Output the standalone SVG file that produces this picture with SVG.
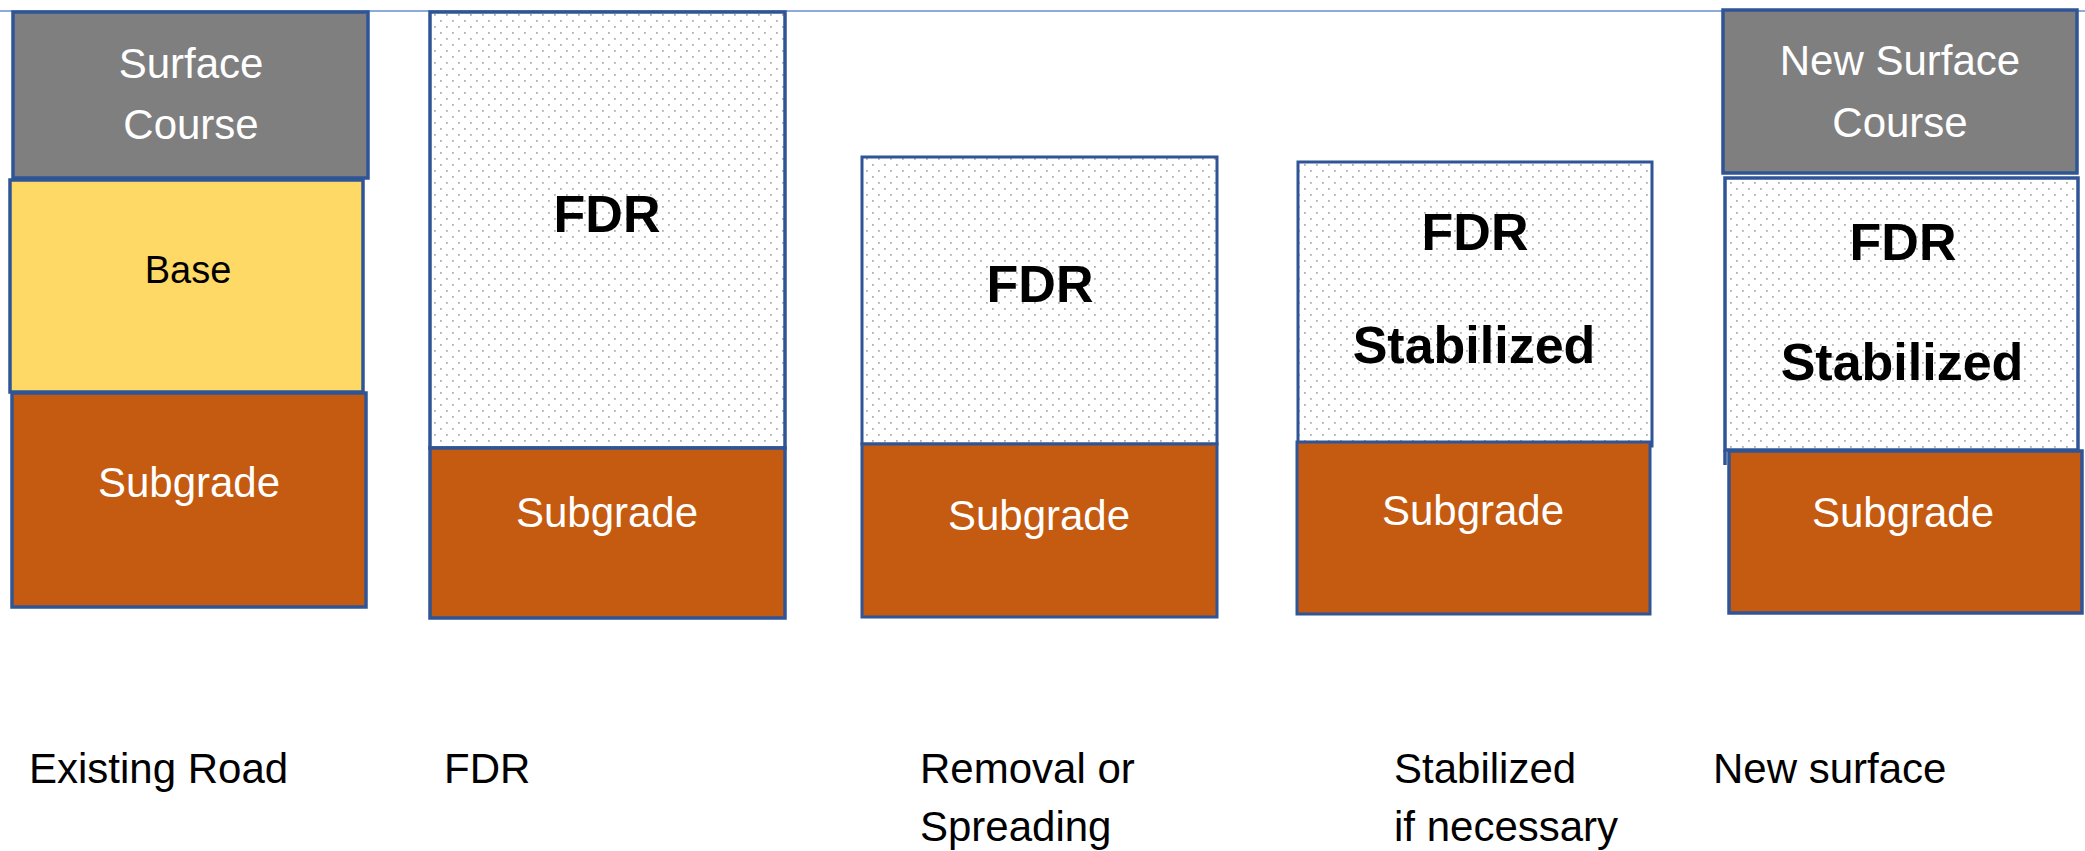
<svg xmlns="http://www.w3.org/2000/svg" width="2085" height="851" viewBox="0 0 2085 851">
<style>
.lay{stroke:#2f5597;stroke-width:3.5}
.thin{stroke-width:3}
.surf{fill:#7f7f7f}
.base{fill:#ffd966}
.sub{fill:#c55a11}
.fdr{fill:url(#dots)}
.t{font-family:"Liberation Sans",Arial,sans-serif;text-anchor:middle}
.w{fill:#ffffff;font-size:42px}
.b{fill:#000000;font-size:52px;font-weight:bold}
.lbl{font-family:"Liberation Sans",Arial,sans-serif;font-size:42px;fill:#000000}
</style>
<defs>
<pattern id="dots" x="0" y="0" width="12" height="12" patternUnits="userSpaceOnUse">
<rect width="12" height="12" fill="#ffffff"/>
<rect x="2" y="2" width="1.8" height="1.8" fill="#b0b0b0"/>
<rect x="8" y="8" width="1.8" height="1.8" fill="#b0b0b0"/>
</pattern>
</defs>
<rect width="2085" height="851" fill="#ffffff"/>
<g id="connectors">
<line x1="0" y1="11" x2="2085" y2="11" stroke="#8eaadb" stroke-width="2"/>
</g>
<g id="existing-road">
<rect class="lay surf" x="13" y="12" width="355" height="166"/>
<text class="t w" x="191" y="78">Surface</text>
<text class="t w" x="191" y="139">Course</text>
<rect class="lay base" x="10" y="180" width="353" height="212"/>
<text class="t" x="188" y="283" font-size="38" fill="#000">Base</text>
<rect class="lay sub" x="12" y="393" width="354" height="214"/>
<text class="t w" x="189" y="497">Subgrade</text>
</g>
<g id="fdr">
<rect class="lay fdr" x="430" y="12" width="355" height="436"/>
<text class="t b" x="607" y="232">FDR</text>
<rect class="lay sub" x="430" y="448" width="355" height="170"/>
<text class="t w" x="607" y="527">Subgrade</text>
</g>
<g id="removal">
<rect class="lay thin fdr" x="862" y="157" width="355" height="287"/>
<text class="t b" x="1040" y="302">FDR</text>
<rect class="lay thin sub" x="862" y="444" width="355" height="173"/>
<text class="t w" x="1039" y="530">Subgrade</text>
</g>
<g id="stabilized">
<rect class="lay thin fdr" x="1298" y="162" width="354" height="284"/>
<text class="t b" x="1475" y="250">FDR</text>
<text class="t b" x="1474" y="363">Stabilized</text>
<rect class="lay thin sub" x="1297" y="442" width="353" height="172"/>
<text class="t w" x="1473" y="525">Subgrade</text>
</g>
<g id="new-surface">
<rect class="lay surf" x="1723" y="10" width="354" height="163"/>
<text class="t w" x="1900" y="75">New Surface</text>
<text class="t w" x="1900" y="137">Course</text>
<rect class="lay fdr" x="1725" y="178" width="353" height="272"/>
<line x1="1725" y1="450" x2="1725" y2="465" stroke="#2f5597" stroke-width="3.5"/>
<text class="t b" x="1903" y="260">FDR</text>
<text class="t b" x="1902" y="380">Stabilized</text>
<rect class="lay sub" x="1729" y="451" width="353" height="162"/>
<text class="t w" x="1903" y="527">Subgrade</text>
</g>
<g id="labels">
<text class="lbl" x="29" y="783">Existing Road</text>
<text class="lbl" x="444" y="783">FDR</text>
<text class="lbl" x="920" y="783">Removal or</text>
<text class="lbl" x="920" y="841">Spreading</text>
<text class="lbl" x="1394" y="783">Stabilized</text>
<text class="lbl" x="1394" y="841">if necessary</text>
<text class="lbl" x="1713" y="783">New surface</text>
</g>
</svg>
